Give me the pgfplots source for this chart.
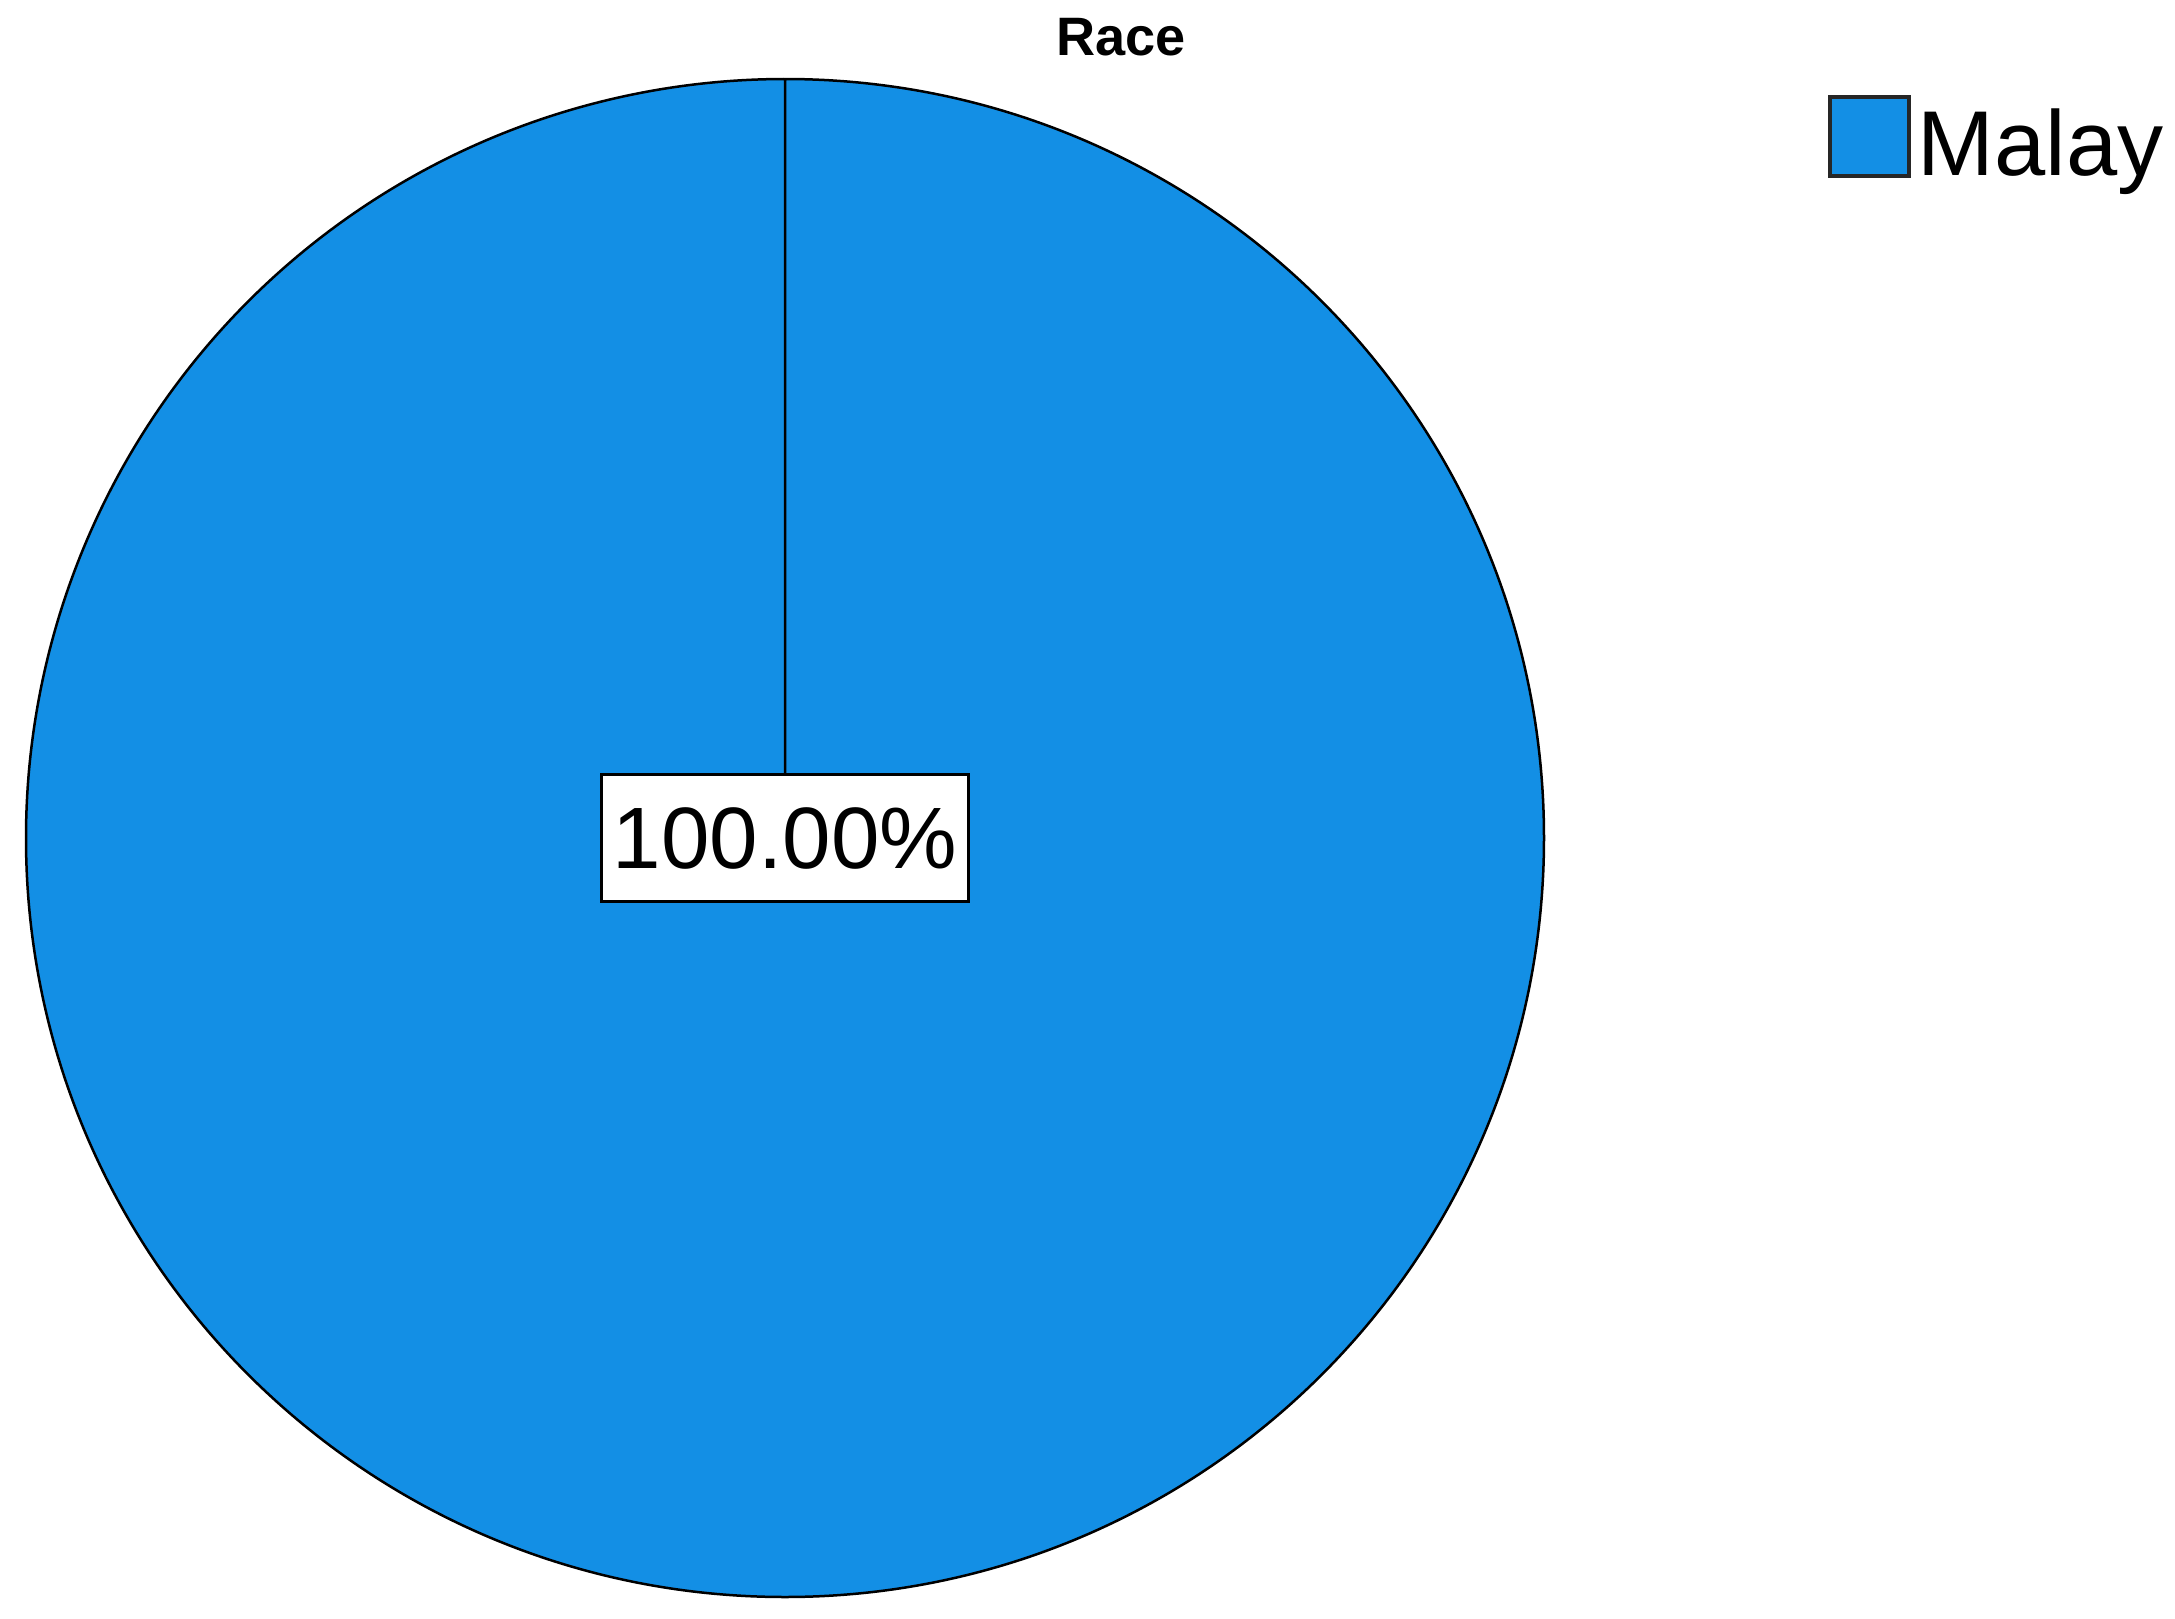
\documentclass[border=0pt]{standalone}
\usepackage{fontspec}
\setmainfont{Liberation Sans}
\usepackage{pgfplots}
\usepackage{pgfplotstable}
\pgfplotsset{compat=1.18}
\definecolor{malay}{RGB}{19,143,229}

% one slice per row: share of respondents by race (percent)
\pgfplotstableread{
race  pct
Malay 100
}\racedata

\begin{document}
\begin{tikzpicture}
\path[use as bounding box] (0,0) rectangle (217.5mm,-161.9mm);
\pgfplotstablegetelem{0}{pct}\of\racedata
\let\pct\pgfplotsretval
\begin{axis}[
  at={(78.5mm,-83.8mm)}, anchor=center,
  scale only axis, width=151.8mm, height=151.8mm,
  xmin=-1, xmax=1, ymin=-1, ymax=1,
  hide axis, clip=false,
  legend style={draw=none, fill=none, inner sep=0pt, outer sep=0pt,
    at={(axis description cs:1.187,0.9895)}, anchor=north west,
    font=\fontsize{26.2}{30}\selectfont,
    /tikz/every even column/.append style={column sep=1.9mm}},
  legend cell align=left,
]
\addlegendimage{legend image code/.code={
  \draw[fill=malay, draw=black!85, line width=0.4mm] (0mm,-3.95mm) rectangle (7.9mm,3.95mm);}}
\addlegendentry{\raisebox{-1.6mm}{Malay}}
\filldraw[fill=malay, draw=black, line width=0.25mm]
  (axis cs:0,0) -- (axis cs:0,1)
  arc[start angle=90, end angle={90-3.6*\pct}, radius=75.9mm] -- cycle;
\node[fill=white, draw=black, line width=0.3mm, inner sep=0pt,
  minimum width=36.7mm, minimum height=12.7mm,
  font=\fontsize{24.8}{30}\selectfont] at (axis cs:0,0)
  {\pgfmathprintnumber[fixed, fixed zerofill, precision=2, assume math mode=true]{\pct}\%};
\end{axis}
\node[font=\bfseries\fontsize{15.4}{18}\selectfont, anchor=base] at (112.1mm,-5.5mm) {Race};
\end{tikzpicture}
\end{document}
